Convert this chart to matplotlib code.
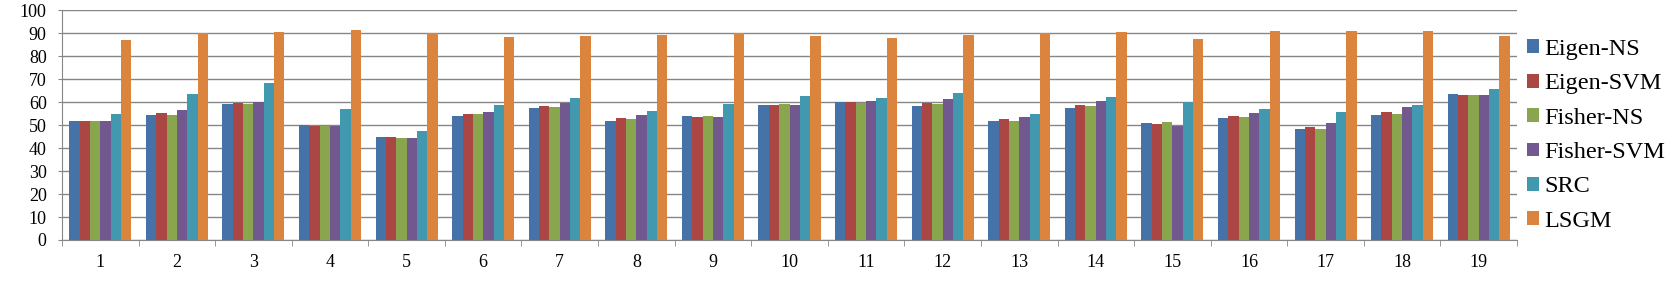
import matplotlib
matplotlib.use("Agg")
import matplotlib.pyplot as plt
import numpy as np

categories = [str(i) for i in range(1, 20)]
series_names = ["Eigen-NS", "Eigen-SVM", "Fisher-NS", "Fisher-SVM", "SRC", "LSGM"]
eigen_ns   = [51.8, 54.4, 59.1, 50.0, 44.8, 53.9, 57.4, 51.7, 53.9, 58.7, 60.0, 58.3, 51.7, 57.4, 50.9, 53.0, 48.3, 54.3, 63.5]
eigen_svm  = [51.8, 55.2, 59.6, 49.7, 44.8, 54.8, 58.3, 53.0, 53.5, 58.7, 60.0, 59.6, 52.6, 58.7, 50.4, 53.9, 49.1, 55.7, 63.0]
fisher_ns  = [51.8, 54.4, 59.1, 49.7, 44.3, 54.8, 57.8, 52.6, 53.9, 59.1, 59.6, 59.1, 51.7, 58.3, 51.3, 53.5, 48.3, 54.8, 63.0]
fisher_svm = [51.8, 56.5, 60.0, 49.7, 44.3, 55.7, 59.6, 54.3, 53.5, 58.7, 60.4, 61.3, 53.5, 60.4, 49.7, 55.2, 50.9, 57.8, 63.0]
src        = [54.8, 63.5, 68.3, 57.0, 47.4, 58.7, 61.7, 56.1, 59.1, 62.6, 61.7, 63.9, 54.8, 62.2, 60.0, 57.0, 55.7, 58.7, 65.7]
lsgm       = [87.0, 89.9, 90.4, 91.3, 89.9, 88.3, 88.7, 89.1, 89.9, 88.7, 87.8, 89.1, 89.9, 90.4, 87.4, 90.9, 90.9, 90.9, 88.7]
colors = ["#4572A7", "#AA4643", "#89A54E", "#71588F", "#4198AF", "#DB843D"]

plt.rcParams['font.family'] = ['Liberation Serif', 'DejaVu Serif']

fig = plt.figure(figsize=(16.69, 2.88), dpi=100)
ax = fig.add_axes([62/1669, 48/288, (1517-62)/1669, (240-10.3)/288])

data = [eigen_ns, eigen_svm, fisher_ns, fisher_svm, src, lsgm]
x = np.arange(len(categories))
total = 0.81
w = total / len(data)
for i, (vals, name, c) in enumerate(zip(data, series_names, colors)):
    ax.bar(x - total/2 + w*(i+0.5), vals, width=w, color=c, label=name, zorder=3, linewidth=0)

ax.set_xlim(-0.5, len(categories) - 0.5)
ax.set_ylim(0, 100)
ax.set_yticks(np.arange(0, 101, 10))
ax.yaxis.grid(True, color="#868686", linewidth=1.0, zorder=0)
ax.set_axisbelow(True)

ax.set_xticks(x)
ax.set_xticklabels(categories)
ax.set_xticks(np.arange(-0.5, len(categories)), minor=True)
ax.tick_params(axis='x', which='major', length=0, pad=10, labelsize=13)
ax.tick_params(axis='x', which='minor', length=4.5, color="#868686", direction='out')
ax.tick_params(axis='y', which='major', length=3, color="#868686", pad=8, labelsize=13)

for s in ['top', 'right']:
    ax.spines[s].set_visible(False)
for s in ['left', 'bottom']:
    ax.spines[s].set_color("#868686")

fig.legend(loc='upper left', bbox_to_anchor=(1527/1669, 1 - 39/288), frameon=False,
           fontsize=17.5, handlelength=0.5, handleheight=0.5, handletextpad=0.2,
           labelspacing=0.55, borderpad=0, borderaxespad=0)

fig.savefig("out.png", dpi=100)
